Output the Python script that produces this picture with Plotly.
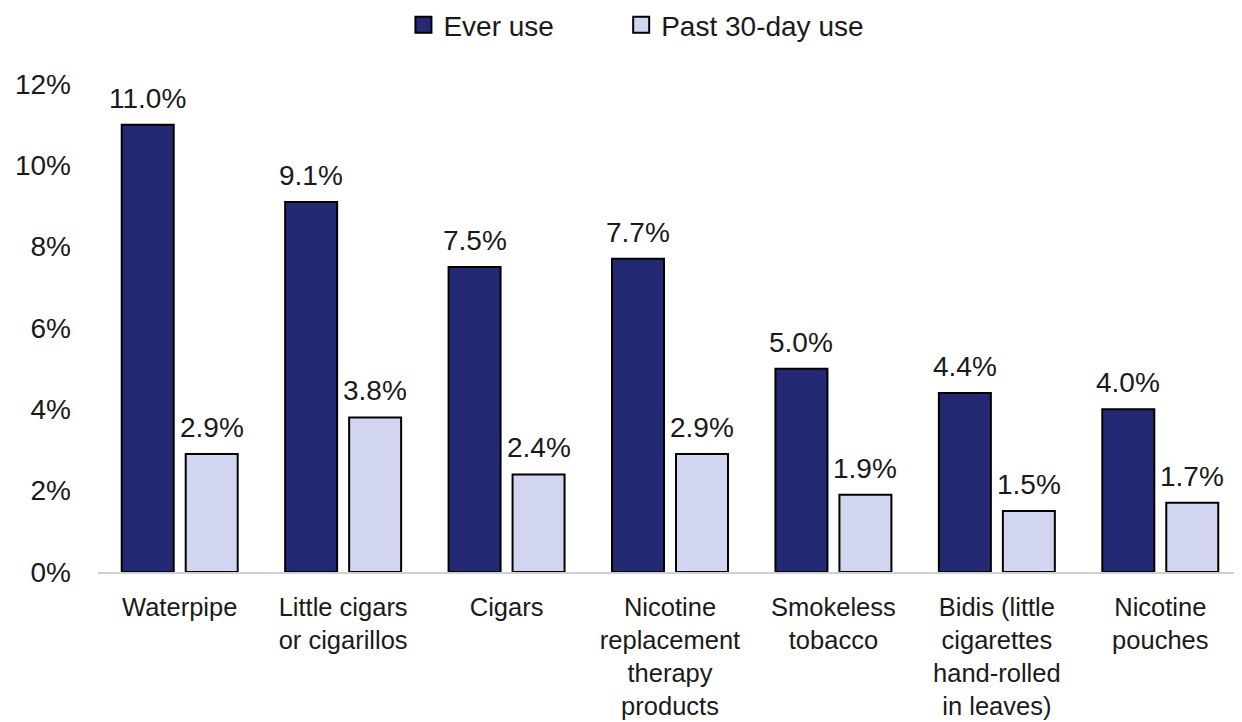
import plotly.graph_objects as go

categories = [
    "Waterpipe",
    "Little cigars<br>or cigarillos",
    "Cigars",
    "Nicotine<br>replacement<br>therapy<br>products",
    "Smokeless<br>tobacco",
    "Bidis (little<br>cigarettes<br>hand-rolled<br>in leaves)",
    "Nicotine<br>pouches",
]
ever_use = [11.0, 9.1, 7.5, 7.7, 5.0, 4.4, 4.0]
past30_use = [2.9, 3.8, 2.4, 2.9, 1.9, 1.5, 1.7]
y_ticks = [0, 2, 4, 6, 8, 10, 12]
y_tick_labels = ["0%", "2%", "4%", "6%", "8%", "10%", "12%"]
series_names = ["Ever use", "Past 30-day use"]

FONT = "Liberation Sans, Arial, sans-serif"
FS = 28
TXT = "#1a1a1a"
DARK = "#232A73"
LIGHT = "#D1D5F0"

# page body has an 8px margin, so the figure is sized to fit the viewport
W, H = 1234, 714
ML, MR, MT, MB = 90, 0, 76, 150
BARGAP = 0.217
GROUPGAP = 0.1875

fig = go.Figure()
fig.add_trace(go.Bar(
    x=categories, y=ever_use, name=series_names[0], showlegend=False,
    marker=dict(color=DARK, line=dict(color="#000000", width=2)),
))
fig.add_trace(go.Bar(
    x=categories, y=past30_use, name=series_names[1], showlegend=False,
    marker=dict(color=LIGHT, line=dict(color="#000000", width=2)),
))
# legend entries with larger square swatches (extra spacing after first entry)
legend_labels = [series_names[0] + "\u00a0" * 8, series_names[1]]
for name, col in zip(legend_labels, (DARK, LIGHT)):
    fig.add_trace(go.Scatter(
        x=[None], y=[None], mode="markers", name=name,
        marker=dict(symbol="square", size=16, color=col,
                    line=dict(color="#000000", width=2)),
    ))

# value labels above bars
cat_px = (W - ML - MR) / len(categories)
slot = cat_px * (1 - BARGAP) / 2
for series, sign in ((ever_use, -1), (past30_use, 1)):
    for c, v in zip(categories, series):
        fig.add_annotation(
            x=c, y=v, xref="x", yref="y", text=f"{v:.1f}%",
            showarrow=False, xanchor="center", yanchor="bottom",
            xshift=sign * slot / 2, yshift=9,
            font=dict(family=FONT, size=FS, color=TXT),
        )

fig.update_layout(
    width=W, height=H,
    paper_bgcolor="white", plot_bgcolor="white",
    margin=dict(l=ML, r=MR, t=MT, b=MB),
    barmode="group", bargap=BARGAP, bargroupgap=GROUPGAP,
    font=dict(family=FONT, size=FS, color=TXT),
    showlegend=True,
    legend=dict(
        orientation="h", x=0.267, xanchor="left",
        yref="container", y=1 - 17 / H, yanchor="middle",
        font=dict(family=FONT, size=FS, color=TXT),
        itemwidth=30, traceorder="normal",
    ),
    xaxis=dict(
        showgrid=False, showline=True, linecolor="#D0D0D0", linewidth=2,
        ticks="", tickfont=dict(family=FONT, size=25.5, color=TXT),
        ticklabelstandoff=11, automargin=False,
    ),
    yaxis=dict(
        range=[0, 12], tickvals=y_ticks, ticktext=y_tick_labels,
        showgrid=False, zeroline=False, showline=False,
        ticks="", tickfont=dict(family=FONT, size=FS, color=TXT),
        ticklabelstandoff=26, automargin=False,
    ),
)
fig.write_html("out.html")
